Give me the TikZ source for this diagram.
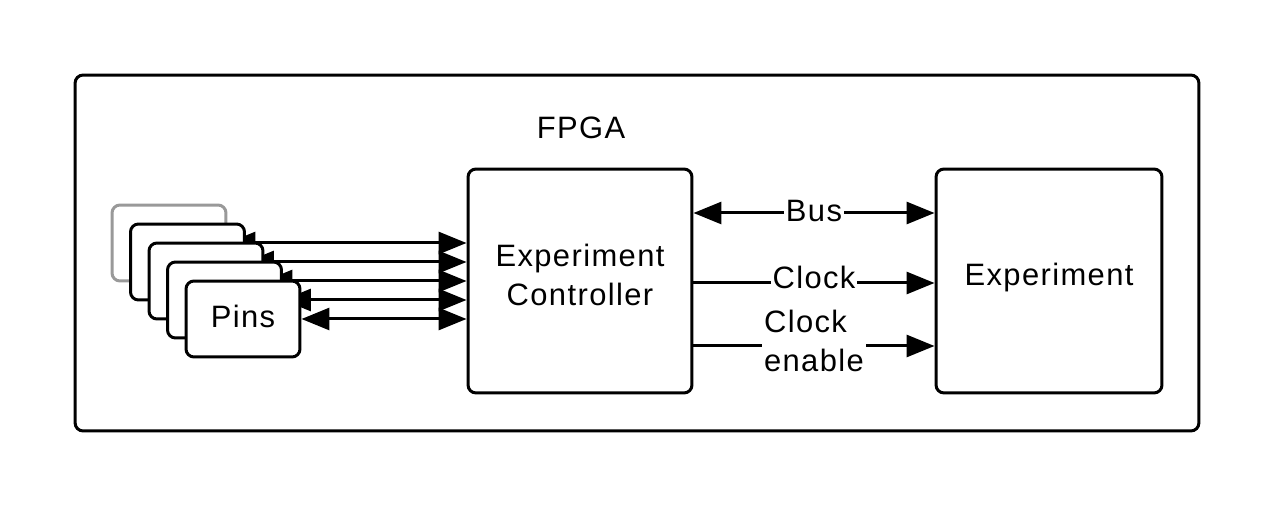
\documentclass[tikz,border=0pt]{standalone}
\usepackage{fontspec}
\setmainfont{Liberation Sans}[LetterSpace=4.5]
\usetikzlibrary{arrows.meta,backgrounds}
\begin{document}
\begin{tikzpicture}[x=0.02cm,y=-0.02cm,
  every node/.style={font=\fontsize{17.6pt}{22pt}\selectfont},
  frame/.style={draw, line width=0.06cm, rounded corners=0.16cm, inner sep=0pt},
  pinbox/.style={frame, fill=white, minimum width=2.28cm, minimum height=1.52cm},
  conn/.style={line width=0.06cm, -{Triangle[length=0.56cm,width=0.44cm]}},
  dconn/.style={line width=0.06cm, {Triangle[length=0.56cm,width=0.44cm]}-{Triangle[length=0.56cm,width=0.44cm]}},
  lbl/.style={fill=white, inner sep=1pt, align=center}]
\useasboundingbox (0,0) rectangle (1275,506);
\node[frame, minimum width=22.48cm, minimum height=7.12cm] (fpga) at (637,253) {};
\node (fpgalbl) at (581,128) {FPGA};
\node[frame, fill=white, minimum width=4.48cm, minimum height=4.48cm] (ctrl) at (580,281) {};
\node[align=center] (ctrltxt) at (580,275) {Experiment\\Controller};
\node[frame, fill=white, minimum width=4.52cm, minimum height=4.48cm] (exp) at (1049,281) {};
\node (exptxt) at (1049,278) {Experiment};
% pins stack
\node[pinbox, draw=black!40] (p1) at (169,243) {};
\node[pinbox] (p2) at (187.5,262) {};
\node[pinbox] (p3) at (206,281) {};
\node[pinbox] (p4) at (224.5,300) {};
\node[pinbox] (p5) at (243,319) {};
\node (pinstxt) at (243,316) {Pins};
\begin{scope}[on background layer]
  \foreach \i in {1,...,5}{
    \draw[dconn] (p\i.east) -- (ctrl.west |- p\i.east);
  }
\end{scope}
% right-hand connectors
\coordinate (busy) at (0,213);
\coordinate (clky) at (0,283);
\coordinate (cey) at (0,346);
\draw[dconn] (ctrl.east |- busy) -- node[lbl, yshift=0.03cm] (buslbl) {Bus} (exp.west |- busy);
\draw[conn] (ctrl.east |- clky) -- node[lbl, yshift=0.12cm] (clklbl) {Clock} (exp.west |- clky);
\draw[conn] (ctrl.east |- cey) -- node[lbl, align=left, yshift=0.1cm] (celbl) {Clock\\enable} (exp.west |- cey);
\end{tikzpicture}
\end{document}
